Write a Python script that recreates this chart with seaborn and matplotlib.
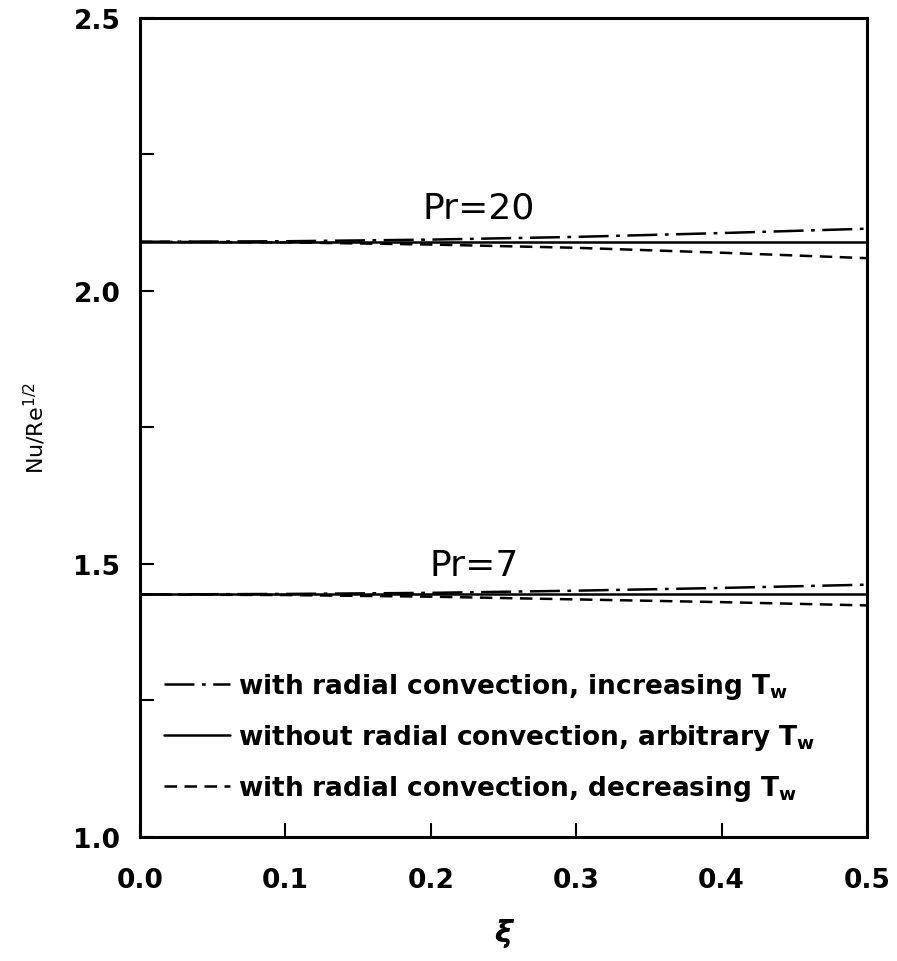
import numpy as np
import pandas as pd
import seaborn as sns
import matplotlib.pyplot as plt
from matplotlib.ticker import MultipleLocator

xi = [0.0, 0.1, 0.2, 0.3, 0.4, 0.5]

pr20_increasing = [2.090, 2.091, 2.094, 2.099, 2.106, 2.114]
pr20_none = [2.090, 2.090, 2.090, 2.090, 2.090, 2.090]
pr20_decreasing = [2.090, 2.089, 2.085, 2.079, 2.070, 2.060]

pr7_increasing = [1.444, 1.445, 1.447, 1.451, 1.456, 1.462]
pr7_none = [1.444, 1.444, 1.444, 1.444, 1.444, 1.444]
pr7_decreasing = [1.444, 1.443, 1.440, 1.435, 1.430, 1.424]

xticks = [0.0, 0.1, 0.2, 0.3, 0.4, 0.5]
xtick_labels = ['0.0', '0.1', '0.2', '0.3', '0.4', '0.5']
yticks = [1.0, 1.5, 2.0, 2.5]
ytick_labels = ['1.0', '1.5', '2.0', '2.5']

labels = ['with radial convection, increasing T$_\\mathregular{w}$',
          'without radial convection, arbitrary T$_\\mathregular{w}$',
          'with radial convection, decreasing T$_\\mathregular{w}$']

sns.set_theme(style='ticks')
plt.rcParams['font.family'] = ['DejaVu Sans']
plt.rcParams['text.color'] = 'black'
plt.rcParams['axes.labelcolor'] = 'black'
plt.rcParams['xtick.color'] = 'black'
plt.rcParams['ytick.color'] = 'black'
plt.rcParams['mathtext.default'] = 'bf'

fig = plt.figure(figsize=(8.97, 9.62), dpi=100)
ax = fig.add_axes([0.156, 0.129, 0.8106, 0.8513])

styles = [(0, (12, 3, 1.5, 3)), '-', (0, (5, 3))]
for k, pr_lines in enumerate([(pr20_increasing, pr20_none, pr20_decreasing),
                              (pr7_increasing, pr7_none, pr7_decreasing)]):
    for i, ys in enumerate(pr_lines):
        sns.lineplot(x=xi, y=ys, ax=ax, color='black', lw=1.8,
                     linestyle=styles[i], label=labels[i] if k == 0 else None)

ax.set_xlim(0, 0.5)
ax.set_ylim(1.0, 2.5)
ax.set_xticks(xticks, xtick_labels, fontweight='bold')
ax.set_yticks(yticks, ytick_labels, fontweight='bold')
ax.yaxis.set_minor_locator(MultipleLocator(0.25))
ax.tick_params(direction='in', length=10, width=1.5, labelsize=19, pad=14)
ax.tick_params(axis='y', which='minor', direction='in', length=10, width=1.5)
ax.tick_params(axis='x', pad=22)
for s in ax.spines.values():
    s.set_linewidth(2.2)
    s.set_color('black')

ax.set_xlabel('ξ', fontsize=22, fontweight='bold', fontstyle='italic', labelpad=18)
ax.set_ylabel('Nu/Re$^{\\mathregular{1/2}}$', fontsize=16, labelpad=18)

ax.text(0.233, 2.122, 'Pr=20', fontsize=26, ha='center', va='bottom')
ax.text(0.230, 1.467, 'Pr=7', fontsize=26, ha='center', va='bottom')

leg = ax.legend(loc='lower left', bbox_to_anchor=(0.0, 0.012), frameon=False,
                fontsize=19, handlelength=2.5, labelspacing=0.8, handletextpad=0.3)
for t in leg.get_texts():
    t.set_fontweight('bold')

fig.savefig('out.png', dpi=100)
